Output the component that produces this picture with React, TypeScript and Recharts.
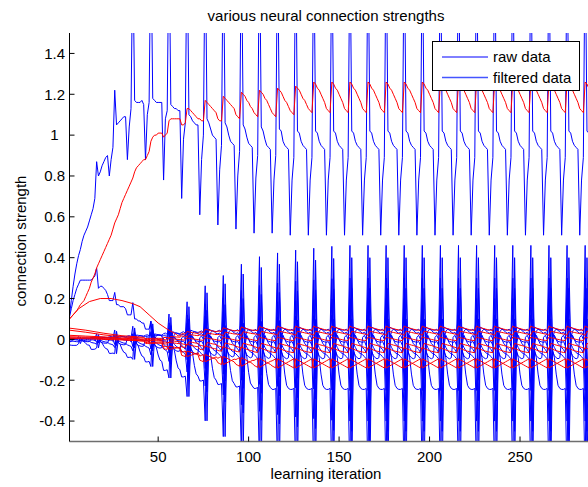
import React from 'react';
import { LineChart, Line, XAxis, YAxis } from 'recharts';

// ---------- axes / labels ----------
const X_FIRST = 1;
const X_LAST = 290;
const xTicks = [50, 100, 150, 200, 250];
const yTicks = [-0.4, -0.2, 0, 0.2, 0.4, 0.6, 0.8, 1, 1.2, 1.4];
const titleText = 'various neural connection strengths';
const xLabelText = 'learning iteration';
const yLabelText = 'connection strength';
const legendLabels = ['raw data', 'filtered data'];

// iteration i = 10*k + 3 + p ; p = 3 is the spike phase
// growth of the lower-band spikes and band width, per cycle k = 0,1,2,...
const spikeScale = [0.03, 0.06, 0.1, 0.14, 0.19, 0.27, 0.4, 0.57, 0.68, 0.8, 0.88, 0.92, 0.95, 0.97, 0.99, 1];
const bandScale = [0.12, 0.2, 0.28, 0.36, 0.45, 0.62, 0.75, 0.83, 0.9, 0.95, 0.98, 1];
// spread of the filtered lines, per cycle k = 4,5,...
const redScale = [0.15, 0.35, 0.6, 0.78, 0.88, 0.94, 0.98, 1];

// ---------- upper raw series ----------
const rawUpperEarly = [0.12, 0.19, 0.26, 0.32, 0.37, 0.41, 0.44, 0.48, 0.51, 0.53, 0.55, 0.58, 0.61, 0.64, 0.69, 0.87, 0.8, 0.82, 0.85, 0.87, 0.89, 0.9, 0.8, 0.88, 0.94, 1.22, 1.05, 1.06, 1.07, 1.08, 1.09, 1.09, 0.88, 1.04, 1.13, 1.9, 1.17, 1.16, 1.16, 1.16, 1.17, 1.15];
const rawUpperCycles = [
  [0.88, 1.1, 1.16, 2.0, 1.18, 1.17, 1.16, 1.16, 1.16, 1.16],
  [0.78, 1.08, 1.12, 2.0, 1.15, 1.14, 1.13, 1.13, 1.12, 1.12],
  [0.69, 0.98, 1.06, 2.0, 1.1, 1.09, 1.07, 1.06, 1.05, 1.05],
  [0.61, 0.88, 1.0, 2.0, 1.08, 1.06, 1.03, 1.0, 0.99, 0.98],
  [0.56, 0.83, 0.95, 2.0, 1.06, 1.04, 1.0, 0.97, 0.96, 0.95],
  [0.54, 0.8, 0.92, 2.0, 1.05, 1.03, 0.99, 0.96, 0.95, 0.94],
  [0.52, 0.79, 0.9, 2.0, 1.04, 1.02, 0.98, 0.95, 0.94, 0.93],
  [0.52, 0.78, 0.9, 2.0, 1.03, 1.02, 0.97, 0.95, 0.94, 0.93],
];
const rawUpperSteady = [0.51, 0.78, 0.89, 2.0, 1.02, 1.01, 0.97, 0.95, 0.94, 0.93];

// ---------- upper filtered series ----------
const filtUpperEarly = [0.1, 0.11, 0.12, 0.13, 0.14, 0.155, 0.17, 0.18, 0.19, 0.21, 0.23, 0.25, 0.28, 0.3, 0.32, 0.35, 0.37, 0.39, 0.41, 0.43, 0.45, 0.47, 0.49, 0.51, 0.54, 0.57, 0.59, 0.61, 0.64, 0.67, 0.69, 0.71, 0.73, 0.75, 0.77, 0.79, 0.82, 0.84, 0.85, 0.86, 0.87, 0.88];
const filtUpperCycles = [
  [0.88, 0.9, 0.92, 0.97, 0.99, 1.0, 1.0, 1.01, 1.01, 1.01],
  [0.99, 1.0, 1.01, 1.07, 1.08, 1.08, 1.08, 1.08, 1.08, 1.08],
  [1.05, 1.05, 1.06, 1.13, 1.13, 1.12, 1.11, 1.1, 1.09, 1.08],
  [1.08, 1.07, 1.07, 1.17, 1.16, 1.15, 1.14, 1.13, 1.12, 1.11],
  [1.08, 1.07, 1.07, 1.19, 1.18, 1.17, 1.16, 1.15, 1.14, 1.13],
  [1.1, 1.09, 1.08, 1.21, 1.2, 1.19, 1.17, 1.16, 1.14, 1.13],
  [1.11, 1.1, 1.09, 1.22, 1.21, 1.2, 1.18, 1.17, 1.15, 1.13],
  [1.11, 1.1, 1.09, 1.23, 1.22, 1.21, 1.19, 1.17, 1.16, 1.14],
  [1.12, 1.11, 1.1, 1.24, 1.23, 1.22, 1.2, 1.18, 1.17, 1.15],
];
const filtUpperSteady = [1.13, 1.12, 1.11, 1.26, 1.25, 1.23, 1.22, 1.2, 1.18, 1.16];

// ---------- lower raw series: one cycle each (p0..p9) ----------
const rawLow1 = [0.03, 0.035, 0.02, 0.46, -0.7, 0.0, 0.04, 0.05, 0.045, 0.035];
const rawLow2 = [-0.245, -0.245, -0.24, -0.7, 0.4, -0.05, -0.09, -0.17, -0.225, -0.24];
const rawLow3 = [0.045, 0.05, 0.04, 0.12, -0.2, 0.06, 0.055, 0.05, 0.048, 0.045];
const rawLow4 = [-0.015, -0.01, -0.03, 0.2, -0.3, 0.03, 0.01, 0.0, -0.01, -0.012];
const rawLow5 = [-0.075, -0.085, -0.095, -0.4, 0.1, -0.02, -0.04, -0.055, -0.065, -0.07];
const rawLow6 = [-0.04, -0.05, -0.065, 0.3, -0.45, -0.03, 0.02, 0.0, -0.02, -0.03];
const rawLow7 = [0.01, 0.02, 0.0, -0.25, 0.25, -0.06, -0.08, -0.09, -0.095, -0.09];
// the early bump of raw series 6 (iterations 1..52)
const rawLow6Early = [0.11, 0.15, 0.19, 0.22, 0.25, 0.27, 0.29, 0.29, 0.29, 0.29, 0.29, 0.29, 0.29, 0.3, 0.31, 0.35, 0.25, 0.26, 0.26, 0.25, 0.24, 0.22, 0.19, 0.19, 0.19, 0.23, 0.17, 0.17, 0.16, 0.16, 0.16, 0.15, 0.12, 0.12, 0.12, 0.18, 0.1, 0.1, 0.09, 0.09, 0.08, 0.08, 0.05, 0.05, 0.05, 0.09, 0.0, 0.02, 0.02, 0.02, 0.02, 0.02];

// ---------- lower filtered series: one cycle each (p0..p9) ----------
const filtLow2 = [0.046, 0.045, 0.044, 0.065, 0.06, 0.058, 0.055, 0.053, 0.05, 0.048];
const filtLow3 = [0.028, 0.026, 0.025, 0.02, 0.04, 0.038, 0.036, 0.034, 0.032, 0.03];
const filtLow4 = [-0.004, -0.005, -0.006, 0.012, 0.008, 0.006, 0.004, 0.002, 0.0, -0.002];
const filtLow5 = [-0.036, -0.039, -0.042, -0.045, -0.02, -0.022, -0.025, -0.028, -0.03, -0.033];
const filtLow6 = [-0.062, -0.064, -0.065, -0.04, -0.045, -0.048, -0.052, -0.055, -0.058, -0.06];
const filtLow7 = [-0.13, -0.135, -0.14, -0.095, -0.1, -0.105, -0.11, -0.115, -0.12, -0.125];
const filtLow8 = [-0.105, -0.1, -0.095, -0.14, -0.135, -0.13, -0.125, -0.12, -0.115, -0.11];
// early parts of the filtered lines, [iteration, value]
const filtLow2Early: [number, number][] = [[1, 0.1], [6, 0.15], [12, 0.185], [18, 0.2], [24, 0.2], [30, 0.19], [36, 0.175], [40, 0.16], [45, 0.12], [50, 0.08], [55, 0.05], [60, 0.025]];
const filtLow3Early: [number, number][] = [[1, 0.055], [10, 0.045], [20, 0.03], [30, 0.018], [42, 0.01]];
const filtLow4Early: [number, number][] = [[1, 0.045], [10, 0.035], [20, 0.022], [30, 0.012], [42, 0.006]];
const filtLow5Early: [number, number][] = [[1, 0.02], [10, 0.016], [20, 0.012], [30, 0.006], [42, 0.0]];
const filtLow6Early: [number, number][] = [[1, 0.013], [10, 0.011], [20, 0.008], [30, 0.003], [42, -0.003]];
const filtLow7Early: [number, number][] = [[1, 0.008], [10, 0.007], [20, 0.004], [30, 0.0], [42, -0.008]];
const filtLow8Early: [number, number][] = [[1, 0.004], [10, 0.003], [20, 0.0], [30, -0.003], [42, -0.008]];

// ---------- builders ----------
type Pt = { x: number; y: number };
const phaseOf = (i: number) => (((i - 3) % 10) + 10) % 10;
const cycleOf = (i: number) => Math.floor((i - 3) / 10);
const at = (arr: number[], k: number) => arr[Math.min(Math.max(k, 0), arr.length - 1)];

function buildUpper(early: number[], cycles: number[][], steady: number[]): Pt[] {
  const pts: Pt[] = [];
  for (let i = X_FIRST; i <= X_LAST; i++) {
    let y: number;
    if (i <= early.length) y = early[i - 1];
    else {
      const c = cycles[cycleOf(i) - 4];
      y = c ? c[phaseOf(i)] : steady[phaseOf(i)];
    }
    pts.push({ x: i, y });
  }
  return pts;
}

function buildBand(tpl: number[], early: number[] = []): Pt[] {
  const pts: Pt[] = [];
  for (let i = X_FIRST; i <= X_LAST; i++) {
    let y: number;
    if (i <= early.length) y = early[i - 1];
    else {
      const p = phaseOf(i);
      const k = cycleOf(i);
      const s = p === 3 || p === 4 ? at(spikeScale, k) : at(bandScale, k);
      y = tpl[p] * s;
    }
    pts.push({ x: i, y });
  }
  return pts;
}

function buildFilt(tpl: number[], early: [number, number][]): Pt[] {
  const pts: Pt[] = early.map(([x, y]) => ({ x, y }));
  const start = early[early.length - 1][0] + 1;
  for (let i = start; i <= X_LAST; i++) {
    pts.push({ x: i, y: tpl[phaseOf(i)] * at(redScale, cycleOf(i) - 4) });
  }
  return pts;
}

const rawSeries: Pt[][] = [
  buildUpper(rawUpperEarly, rawUpperCycles, rawUpperSteady),
  buildBand(rawLow6, rawLow6Early),
  buildBand(rawLow3),
  buildBand(rawLow4),
  buildBand(rawLow7),
  buildBand(rawLow5),
  buildBand(rawLow2),
  buildBand(rawLow1),
];
const filtSeries: Pt[][] = [
  buildUpper(filtUpperEarly, filtUpperCycles, filtUpperSteady),
  buildFilt(filtLow2, filtLow2Early),
  buildFilt(filtLow3, filtLow3Early),
  buildFilt(filtLow4, filtLow4Early),
  buildFilt(filtLow5, filtLow5Early),
  buildFilt(filtLow6, filtLow6Early),
  buildFilt(filtLow7, filtLow7Early),
  buildFilt(filtLow8, filtLow8Early),
];

const FONT = '"Liberation Sans", Arial, Helvetica, sans-serif';
const BLUE = '#0000ff';
const RED = '#ff0000';

const fmtY = (v: number) => String(Math.round(v * 10) / 10);

// y tick label; the integer label sits centred where a one-decimal label would be
function YTick(props: any) {
  const { x, y, payload } = props;
  const label = fmtY(payload.value);
  const isInt = !label.includes('.') && label !== '0';
  return (
    <text x={isInt ? x - 6.5 : x} y={y} dy="0.355em" textAnchor="end" fontSize={15} fontFamily={FONT} fill="#000">
      {label}
    </text>
  );
}

export default function App() {
  return (
    <div style={{ position: 'absolute', left: 0, top: 0, width: 588, height: 487, overflow: 'hidden', background: '#fff' }}>
      <LineChart width={600} height={487} margin={{ top: 33, right: 7.6, bottom: 15.5, left: 29.5 }}>
        <XAxis
          type="number"
          dataKey="x"
          domain={[X_FIRST, X_LAST]}
          allowDataOverflow
          ticks={xTicks}
          height={30}
          tickSize={-5}
          tickMargin={15.2}
          axisLine={{ stroke: '#6e6e6e', strokeWidth: 1.5 }}
          tickLine={{ stroke: '#000' }}
          tick={{ fill: '#000', fontSize: 15, fontFamily: FONT }}
        />
        <YAxis
          type="number"
          domain={[-0.5, 1.5]}
          allowDataOverflow
          ticks={yTicks}
          width={40}
          tickSize={-5}
          tickMargin={9.5}
          axisLine={{ stroke: '#000' }}
          tickLine={{ stroke: '#000' }}
          tick={<YTick />}
        />
        {rawSeries.map((d, idx) => (
          <Line key={'raw' + idx} data={d} dataKey="y" type="linear" stroke={BLUE} strokeWidth={1} dot={false} activeDot={false} isAnimationActive={false} />
        ))}
        {filtSeries.map((d, idx) => (
          <Line key={'filt' + idx} data={d} dataKey="y" type="linear" stroke={RED} strokeWidth={1} dot={false} activeDot={false} isAnimationActive={false} />
        ))}
      </LineChart>
      <svg width={588} height={487} style={{ position: 'absolute', left: 0, top: 0, pointerEvents: 'none' }}>
        <text x={326} y={21} textAnchor="middle" fontSize={15} fontFamily={FONT} fill="#000">{titleText}</text>
        <text x={326} y={479} textAnchor="middle" fontSize={15} fontFamily={FONT} fill="#000">{xLabelText}</text>
        <text transform="translate(25.5,241) rotate(-90)" textAnchor="middle" fontSize={15} fontFamily={FONT} fill="#000">{yLabelText}</text>
        <rect x={432.5} y={41.5} width={147} height={49} fill="#fff" stroke="#000" strokeWidth={1} />
        <line x1={442} y1={57} x2={488} y2={57} stroke={BLUE} strokeWidth={1} />
        <text x={493} y={62} fontSize={15} fontFamily={FONT} fill="#000">{legendLabels[0]}</text>
        <line x1={442} y1={77.5} x2={488} y2={77.5} stroke="#4455ff" strokeWidth={1.3} />
        <text x={493} y={82.5} fontSize={15} fontFamily={FONT} fill="#000">{legendLabels[1]}</text>
      </svg>
    </div>
  );
}
